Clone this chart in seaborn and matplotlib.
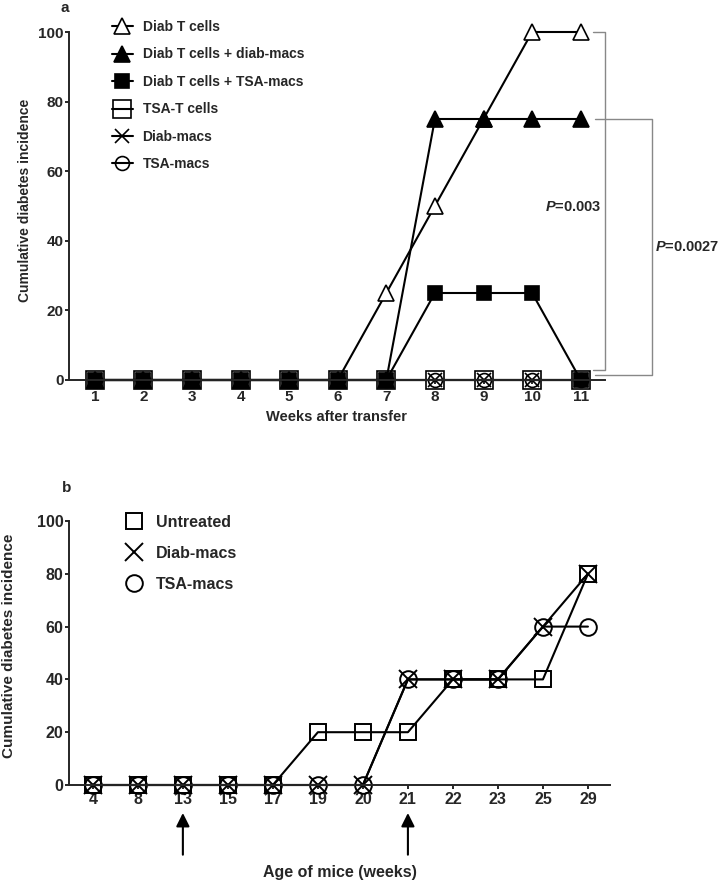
import matplotlib
matplotlib.use("Agg")
import matplotlib.pyplot as plt
from matplotlib.lines import Line2D
import seaborn as sns

# --------------------------------------------
# Data
# --------------------------------------------
# panel a : weeks after transfer
weeks_a = ['1', '2', '3', '4', '5', '6', '7', '8', '9', '10', '11']
diab_t = [0, 0, 0, 0, 0, 0, 25, 50, 75, 100, 100]
diab_t_diab_macs = [0, 0, 0, 0, 0, 0, 0, 75, 75, 75, 75]
diab_t_tsa_macs = [0, 0, 0, 0, 0, 0, 0, 25, 25, 25, 0]
tsa_t = [0, 0, 0, 0, 0, 0, 0, 0, 0, 0, 0]
diab_macs_a = [0, 0, 0, 0, 0, 0, 0, 0, 0, 0, 0]
tsa_macs_a = [0, 0, 0, 0, 0, 0, 0, 0, 0, 0, 0]

# panel b : age of mice (weeks)
age_b = ['4', '8', '13', '15', '17', '19', '20', '21', '22', '23', '25', '29']
untreated = [0, 0, 0, 0, 0, 20, 20, 20, 40, 40, 40, 80]
diab_macs_b = [0, 0, 0, 0, 0, 0, 0, 40, 40, 40, 60, 80]
tsa_macs_b = [0, 0, 0, 0, 0, 0, 0, 40, 40, 40, 60, 60]
arrow_ages = ['13', '21']

yticks = [0, 20, 40, 60, 80, 100]

# --------------------------------------------
# Style
# --------------------------------------------
sns.set_style("ticks")
plt.rcParams['font.family'] = ['Liberation Sans', 'DejaVu Sans']
plt.rcParams['font.weight'] = 'bold'
plt.rcParams['axes.labelweight'] = 'bold'
plt.rcParams['mathtext.fontset'] = 'custom'
plt.rcParams['mathtext.it'] = 'Liberation Sans:italic:bold'
plt.rcParams['mathtext.rm'] = 'Liberation Sans:bold'

fig = plt.figure(figsize=(7.22, 8.82), dpi=100)
W, H = 722, 882
ax_a = fig.add_axes([69 / W, 1 - 380 / H, 536 / W, 348 / H])
ax_b = fig.add_axes([69 / W, 1 - 785 / H, 541 / W, 264 / H])

# --------------------------------------------
# Panel a
# --------------------------------------------
series_a = [
    ("Diab T cells", diab_t,
     dict(marker='^', markersize=11, markerfacecolor='white')),
    ("Diab T cells + diab-macs", diab_t_diab_macs,
     dict(marker='^', markersize=11, markerfacecolor='black')),
    ("Diab T cells + TSA-macs", diab_t_tsa_macs,
     dict(marker='s', markersize=10, markerfacecolor='black')),
    ("TSA-T cells", tsa_t,
     dict(marker='s', markersize=13, markerfacecolor='none')),
    ("Diab-macs", diab_macs_a,
     dict(marker='x', markersize=10, markerfacecolor='none')),
    ("TSA-macs", tsa_macs_a,
     dict(marker='o', markersize=10, markerfacecolor='none')),
]

for label, vals, st in series_a:
    sns.lineplot(x=weeks_a, y=vals, ax=ax_a, color='black', lw=1.5,
                 markeredgecolor='black', markeredgewidth=1.2,
                 clip_on=False, label=label, **st)

ax_a.set_xlim(-0.53, 10.5)
ax_a.set_ylim(0, 100)
ax_a.set_yticks(yticks)
ax_a.tick_params(axis='x', length=3, width=1.4, pad=4.5, labelsize=11)
ax_a.tick_params(axis='y', length=3, width=1.4, pad=1, labelsize=11)
ax_a.set_xlabel("Weeks after transfer", fontsize=10.5, va='center')
ax_a.xaxis.set_label_coords(0.5, -0.106)
ax_a.set_ylabel("Cumulative diabetes incidence", fontsize=10, va='center')
ax_a.yaxis.set_label_coords(-0.082, 0.517)

ax_a.legend(loc='upper left', bbox_to_anchor=(112 / W, 1 - 20 / H),
            bbox_transform=fig.transFigure, frameon=False, fontsize=10,
            handlelength=1.5, handletextpad=0.7, labelspacing=0.97,
            borderpad=0, borderaxespad=0, numpoints=1)

# significance brackets
ax_a.plot([10.25, 10.49, 10.49, 10.25], [100, 100, 2.9, 2.9],
          color='#888888', lw=1, clip_on=False)
ax_a.plot([10.29, 11.46, 11.46, 10.29], [75, 75, 1.4, 1.4],
          color='#888888', lw=1, clip_on=False)
ax_a.text(10.43, 49.7, r'$P$=0.003', ha='right', va='center', fontsize=10.5)
ax_a.text(11.52, 38.2, r'$P$=0.0027', ha='left', va='center', fontsize=10.5)

# --------------------------------------------
# Panel b
# --------------------------------------------
series_b = [
    ("Untreated", untreated, dict(marker='s', markersize=12)),
    ("Diab-macs", diab_macs_b, dict(marker='x', markersize=13)),
    ("TSA-macs", tsa_macs_b, dict(marker='o', markersize=12)),
]

for label, vals, st in series_b:
    sns.lineplot(x=age_b, y=vals, ax=ax_b, color='black', lw=1.5,
                 markerfacecolor='none', markeredgecolor='black',
                 markeredgewidth=1.4, clip_on=False, label=label, **st)

ax_b.set_xlim(-0.53, 11.49)
ax_b.set_ylim(0, 100)
ax_b.set_yticks(yticks)
ax_b.tick_params(axis='x', length=3, width=1.4, pad=2, labelsize=11.5)
ax_b.tick_params(axis='y', length=3, width=1.4, pad=1, labelsize=11.5)
ax_b.set_xlabel("Age of mice (weeks)", fontsize=11.5, va='center')
ax_b.xaxis.set_label_coords(0.5, -0.333)
ax_b.set_ylabel("Cumulative diabetes incidence", fontsize=11, va='center')
ax_b.yaxis.set_label_coords(-0.111, 0.527)

handles_b = [Line2D([], [], ls='none', color='black', marker=st['marker'],
                    markersize=st['markersize'], markerfacecolor='none',
                    markeredgecolor='black', markeredgewidth=1.4)
             for _, _, st in series_b]
ax_b.legend(handles_b, [s[0] for s in series_b], loc='upper left',
            bbox_to_anchor=(124 / W, 1 - 515 / H),
            bbox_transform=fig.transFigure, frameon=False, fontsize=11.5,
            handlelength=1.2, handletextpad=0.8, labelspacing=1.0,
            borderpad=0, borderaxespad=0, numpoints=1)

# treatment arrows
for a in arrow_ages:
    ax_b.annotate('', xy=(a, -10.6), xytext=(a, -26.4), xycoords='data',
                  arrowprops=dict(arrowstyle='-|>', color='black', lw=1.5,
                                  mutation_scale=20, shrinkA=0, shrinkB=0),
                  annotation_clip=False)

for ax in (ax_a, ax_b):
    sns.despine(ax=ax)
    for side in ('left', 'bottom'):
        ax.spines[side].set_linewidth(1.4)

fig.text(65 / W, 1 - 8 / H, 'a', ha='center', va='center', fontsize=11)
fig.text(67 / W, 1 - 488 / H, 'b', ha='center', va='center', fontsize=11)

fig.savefig("out.png", dpi=100)
